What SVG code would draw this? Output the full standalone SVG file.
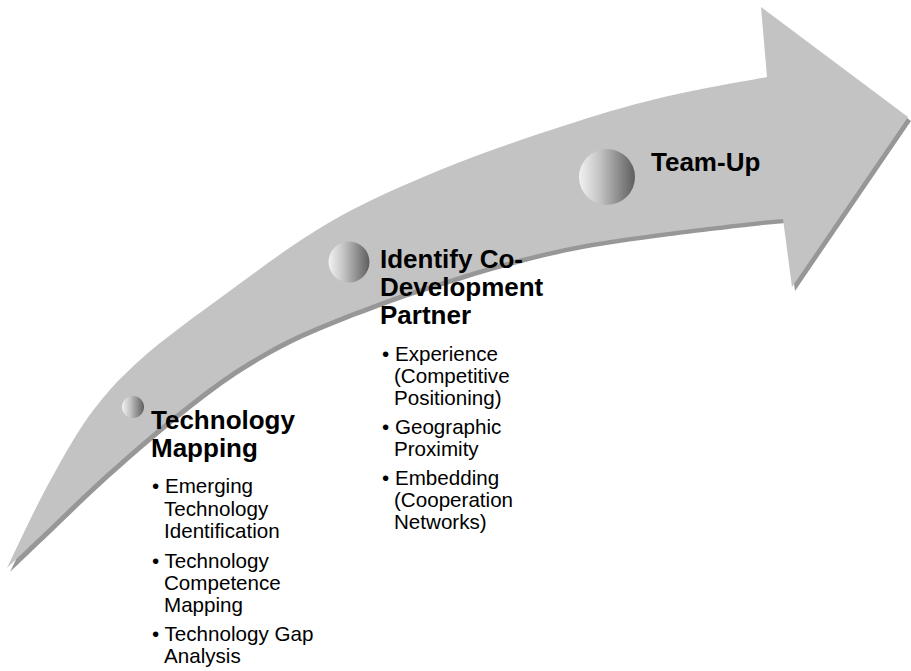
<svg xmlns="http://www.w3.org/2000/svg" xmlns:xlink="http://www.w3.org/1999/xlink" width="911" height="671" viewBox="0 0 911 671">
  <style>
    .heading { font-family: "Liberation Sans", Arial, sans-serif; font-weight: bold; font-size: 26px; fill: #000; }
    .item { font-family: "Liberation Sans", Arial, sans-serif; font-size: 20.6px; fill: #000; }
    .ball { fill: url(#ballShade); }
  </style>
  <defs>
    <linearGradient id="ballShade" x1="0" y1="0" x2="1" y2="0">
      <stop offset="0" stop-color="#f2f2f2"/>
      <stop offset="0.35" stop-color="#c6c6c6"/>
      <stop offset="1" stop-color="#5e5e5e"/>
    </linearGradient>
    <!-- curved sweeping arrow: upper arc, arrowhead, lower arc back to the tail point -->
    <path id="sweep" d="M7,568
      C14.2,553.5 35.3,507.3 50,481
      C64.7,454.7 79,428 95,408
      C111,388 118,380 140,360
      C162,340 195.3,316.2 227,293
      C258.7,269.8 294.5,242.5 330,222
      C365.5,201.5 401.7,185.8 440,170
      C478.3,154.2 523.3,139 560,127
      C596.7,115 625.5,106.3 660,98
      C694.5,89.7 749.2,80.5 767,77
      L761,7 L908,117 L792,287 L783,219 L760,221
      C743.3,223 690,229 660,233
      C630,237 605.5,240.2 580,245
      C554.5,249.8 530.3,255.8 507,262
      C483.7,268.2 461.2,275.3 440,282
      C418.8,288.7 403.3,293.3 380,302
      C356.7,310.7 323.3,323.2 300,334
      C276.7,344.8 258.3,355.5 240,367
      C221.7,378.5 206.7,390.2 190,403
      C173.3,415.8 155.8,430.5 140,444
      C124.2,457.5 110,470.2 95,484
      C80,497.8 64.7,513 50,527
      C35.3,541 14.2,561.2 7,568 Z"/>
  </defs>

  <rect width="911" height="671" fill="#ffffff"/>

  <g id="path-arrow">
    <use xlink:href="#sweep" transform="translate(3,4)" fill="#979797"/>
    <use xlink:href="#sweep" fill="#c3c3c3"/>
  </g>

  <g id="node-technology-mapping">
    <circle class="ball" cx="133" cy="407" r="11"/>
    <text class="heading" x="151" y="429">Technology</text>
    <text class="heading" x="151" y="457">Mapping</text>
    <text class="item" x="152" y="493">• Emerging</text>
    <text class="item" x="164" y="516">Technology</text>
    <text class="item" x="164" y="538">Identification</text>
    <text class="item" x="152" y="568">• Technology</text>
    <text class="item" x="164" y="590">Competence</text>
    <text class="item" x="164" y="612">Mapping</text>
    <text class="item" x="152" y="641">• Technology Gap</text>
    <text class="item" x="164" y="663">Analysis</text>
  </g>

  <g id="node-identify-partner">
    <circle class="ball" cx="349" cy="262" r="20.5"/>
    <text class="heading" x="380" y="268">Identify Co-</text>
    <text class="heading" x="380" y="296">Development</text>
    <text class="heading" x="380" y="324">Partner</text>
    <text class="item" x="382" y="361">• Experience</text>
    <text class="item" x="394" y="383">(Competitive</text>
    <text class="item" x="394" y="405">Positioning)</text>
    <text class="item" x="382" y="434">• Geographic</text>
    <text class="item" x="394" y="456">Proximity</text>
    <text class="item" x="382" y="485">• Embedding</text>
    <text class="item" x="394" y="507">(Cooperation</text>
    <text class="item" x="394" y="529">Networks)</text>
  </g>

  <g id="node-team-up">
    <circle class="ball" cx="607" cy="177" r="28"/>
    <text class="heading" x="651" y="171">Team-Up</text>
  </g>
</svg>
